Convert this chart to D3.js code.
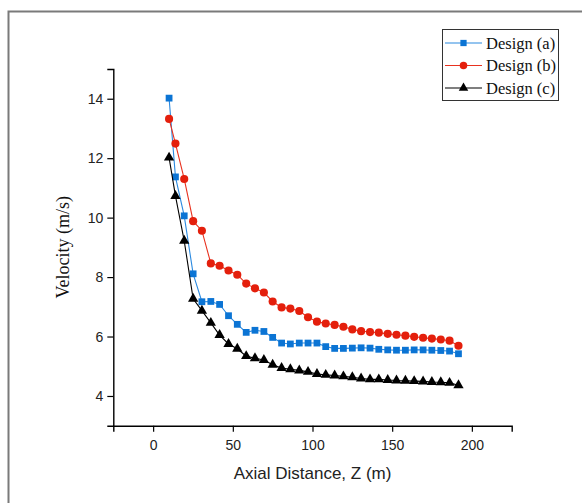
<!DOCTYPE html>
<html>
<head>
<meta charset="utf-8">
<script src="https://cdn.jsdelivr.net/npm/d3@7"></script>
<style>
  html, body { margin: 0; padding: 0; background: #fff; }
  svg { display: block; }
</style>
</head>
<body>
<svg id="chart" width="582" height="503"></svg>
<script>
// Axial positions along the channel (m)
const zValues = [10, 14, 19.5, 25.1, 30.6, 36.2, 41.7, 47.3, 52.8, 58.4, 63.9, 69.5, 75.0, 80.6,
  86.1, 91.7, 97.2, 102.8, 108.3, 113.9, 119.4, 125.0, 130.5, 136.1, 141.6, 147.2, 152.7,
  158.3, 163.8, 169.4, 174.9, 180.5, 186.0, 191.6];

// Velocity (m/s) for each design
const designA = [14.02, 11.37, 10.06, 8.11, 7.17, 7.18, 7.08, 6.70, 6.41, 6.14, 6.21, 6.17, 5.97,
  5.78, 5.75, 5.78, 5.78, 5.78, 5.66, 5.60, 5.60, 5.61, 5.62, 5.61, 5.57, 5.55, 5.54, 5.54,
  5.55, 5.55, 5.54, 5.53, 5.51, 5.42];
const designB = [13.32, 12.49, 11.30, 9.88, 9.56, 8.46, 8.38, 8.22, 8.08, 7.78, 7.62, 7.48, 7.18,
  6.98, 6.94, 6.86, 6.65, 6.50, 6.44, 6.39, 6.33, 6.24, 6.18, 6.15, 6.13, 6.09, 6.06, 6.03,
  5.99, 5.96, 5.93, 5.90, 5.86, 5.69];
const designC = [12.02, 10.73, 9.22, 7.27, 6.87, 6.46, 6.05, 5.75, 5.59, 5.34, 5.27, 5.21, 5.05,
  4.94, 4.90, 4.86, 4.81, 4.74, 4.71, 4.69, 4.66, 4.63, 4.59, 4.56, 4.56, 4.54, 4.52, 4.51,
  4.50, 4.49, 4.47, 4.46, 4.44, 4.36];

const seriesNames = ["Design (a)", "Design (b)", "Design (c)"];
const xTicks = [0, 50, 100, 150, 200];
const xMinorTicks = [-25, 25, 75, 125, 175, 225];
const yTicks = [4, 6, 8, 10, 12, 14];
const yMinorTicks = [3, 5, 7, 9, 11, 13, 15];

const series = [
  { name: seriesNames[0], values: designA, color: "#0b74d4", line: "#2b8ae0", symbol: d3.symbolSquare, size: 46 },
  { name: seriesNames[1], values: designB, color: "#e41f0c", line: "#e8321f", symbol: d3.symbolCircle, size: 52 },
  { name: seriesNames[2], values: designC, color: "#000000", line: "#000000", symbol: d3.symbolTriangle, size: 46 }
];

const svg = d3.select("#chart");

// outer frame
svg.append("rect")
  .attr("x", 8.5).attr("y", 11.5).attr("width", 640).attr("height", 640)
  .attr("fill", "none").attr("stroke", "#7a7a7a").attr("stroke-width", 2);

const plotLeft = 113.3, plotRight = 511.7, plotTop = 69, plotBottom = 425.7;
const x = d3.scaleLinear().domain([-25, 225]).range([plotLeft, plotRight]);
const y = d3.scaleLinear().domain([3, 15]).range([plotBottom, plotTop]);

const axisFont = "'Liberation Sans', Arial, sans-serif";
const serifFont = "'Liberation Serif', 'Times New Roman', serif";

// x axis
const gx = svg.append("g").attr("transform", `translate(0,${plotBottom})`);
gx.call(d3.axisBottom(x).tickValues(xMinorTicks).tickSize(3).tickFormat(""));
gx.call(d3.axisBottom(x).tickValues(xTicks).tickSize(6).tickPadding(8).tickFormat(d3.format("d")));
gx.selectAll(".domain").attr("stroke", "#000").attr("stroke-width", 1.4);
gx.selectAll("line").attr("stroke", "#000").attr("stroke-width", 1.2);
gx.selectAll("text").attr("font-family", axisFont).attr("font-size", 14).attr("fill", "#222");

// y axis
const gy = svg.append("g").attr("transform", `translate(${plotLeft},0)`);
gy.call(d3.axisLeft(y).tickValues(yMinorTicks).tickSize(3).tickFormat(""));
gy.call(d3.axisLeft(y).tickValues(yTicks).tickSize(6).tickPadding(4).tickFormat(d3.format("d")));
gy.selectAll(".domain").attr("stroke", "#000").attr("stroke-width", 1.4);
gy.selectAll("line").attr("stroke", "#000").attr("stroke-width", 1.2);
gy.selectAll("text").attr("font-family", axisFont).attr("font-size", 14).attr("fill", "#222");

// axis titles
svg.append("text")
  .attr("x", (x(-25) + x(225)) / 2).attr("y", 479)
  .attr("text-anchor", "middle")
  .attr("font-family", axisFont).attr("font-size", 17).attr("fill", "#222")
  .text("Axial Distance, Z (m)");

svg.append("text")
  .attr("transform", `translate(69,${(plotTop + plotBottom) / 2}) rotate(-90)`)
  .attr("text-anchor", "middle")
  .attr("font-family", serifFont).attr("font-size", 18).attr("fill", "#111")
  .text("Velocity (m/s)");

// lines and markers
const lineGen = d3.line().x((d, i) => x(zValues[i])).y(d => y(d));

series.forEach(s => {
  const g = svg.append("g");
  g.append("path")
    .datum(s.values)
    .attr("d", lineGen)
    .attr("fill", "none")
    .attr("stroke", s.line)
    .attr("stroke-width", 1.1);
  g.selectAll("path.mark")
    .data(s.values)
    .join("path")
    .attr("class", "mark")
    .attr("transform", (d, i) => `translate(${x(zValues[i])},${y(d)})`)
    .attr("d", d3.symbol().type(s.symbol).size(s.size))
    .attr("fill", s.color);
});

// legend
const legend = svg.append("g");
legend.append("rect")
  .attr("x", 442.5).attr("y", 29.5).attr("width", 116).attr("height", 71)
  .attr("fill", "#fff").attr("stroke", "#333").attr("stroke-width", 1);

series.forEach((s, i) => {
  const ly = 43 + i * 22.5;
  legend.append("line")
    .attr("x1", 445).attr("x2", 482).attr("y1", ly).attr("y2", ly)
    .attr("stroke", s.line).attr("stroke-width", 1.1);
  legend.append("path")
    .attr("transform", `translate(463.5,${ly})`)
    .attr("d", d3.symbol().type(s.symbol).size(s.size * 0.85))
    .attr("fill", s.color);
  legend.append("text")
    .attr("x", 486).attr("y", ly + 5.5)
    .attr("font-family", serifFont).attr("font-size", 16.5).attr("fill", "#111")
    .text(s.name);
});
</script>
</body>
</html>
